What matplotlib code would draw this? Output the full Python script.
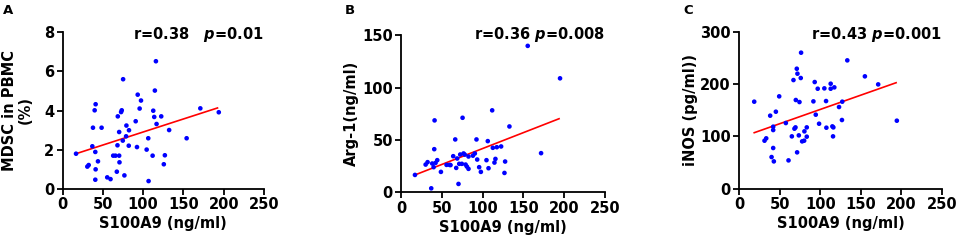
import numpy as np
import matplotlib
matplotlib.use("Agg")
import matplotlib.pyplot as plt

plt.rcParams['font.family'] = ['DejaVu Sans']
plt.rcParams['font.weight'] = 'bold'
plt.rcParams['mathtext.fontset'] = 'custom'
plt.rcParams['mathtext.it'] = 'DejaVu Sans:italic:bold'
plt.rcParams['mathtext.rm'] = 'DejaVu Sans:bold'

# --- data ---
a_x = [16.8, 30.8, 32.5, 37.0, 37.8, 39.9, 41.1, 40.7, 41.1, 40.7, 44.0, 48.5, 55.5, 59.6,
       62.9, 65.7, 67.4, 68.2, 68.6, 70.3, 70.7, 70.3, 72.7, 73.5, 75.2, 76.8, 74.8, 79.3,
       78.9, 82.5, 82.2, 90.8, 92.4, 93.3, 97.4, 95.7, 104.4, 106.8, 106.4, 112.6, 111.8,
       113.8, 114.6, 115.9, 116.7, 122.5, 127.0, 125.7, 132.3, 154.0, 171.0, 193.9]
a_y = [1.79, 1.13, 1.21, 2.17, 3.12, 4.01, 4.32, 1.88, 0.99, 0.46, 1.40, 3.12, 0.58, 0.49,
       1.69, 1.69, 0.87, 2.22, 3.70, 1.69, 1.35, 2.90, 3.92, 4.01, 5.60, 0.68, 2.46, 3.23,
       2.68, 2.99, 2.20, 3.45, 2.13, 4.81, 4.51, 4.10, 2.00, 0.39, 2.58, 3.99, 1.69,
       3.67, 5.02, 6.52, 3.31, 3.70, 1.71, 1.25, 3.00, 2.58, 4.11, 3.91]

b_x = [16.8, 29.9, 32.3, 36.8, 38.0, 39.7, 40.9, 40.5, 42.1, 44.2, 48.7, 55.6, 59.3, 60.5,
       63.8, 66.3, 67.5, 70.3, 68.7, 71.2, 72.4, 74.4, 75.3, 76.5, 78.0, 79.0, 80.6, 82.6,
       82.6, 88.0, 90.4, 92.4, 93.3, 95.7, 97.8, 104.7, 107.2, 106.3, 111.7, 112.5, 114.5,
       115.7, 117.4, 122.7, 126.8, 127.6, 132.9, 155.4, 171.8, 195.1]
b_y = [16.6, 26.5, 28.8, 3.8, 27.5, 24.0, 68.7, 41.2, 28.1, 30.7, 19.5, 26.2, 26.2, 26.0,
       34.5, 50.5, 23.3, 8.0, 32.3, 27.2, 36.1, 27.2, 71.2, 37.1, 36.0, 26.5, 24.6, 22.4,
       34.2, 35.0, 37.1, 50.5, 31.3, 24.0, 19.5, 30.7, 23.0, 48.9, 78.3, 42.5, 28.4,
       31.9, 43.1, 43.8, 18.5, 29.4, 62.9, 139.9, 37.4, 108.9]

c_x = [18.4, 31.1, 33.2, 38.1, 39.8, 41.8, 41.8, 41.8, 42.6, 45.1, 49.2, 57.4, 60.7, 64.8,
       66.8, 68.0, 69.3, 69.7, 70.9, 71.7, 73.4, 74.2, 75.8, 76.2, 71.3, 77.5, 80.0, 80.3,
       83.2, 83.2, 91.4, 93.0, 94.3, 96.7, 98.4, 104.9, 107.0, 107.4, 112.7, 112.7, 114.8,
       116.0, 117.2, 115.6, 123.0, 127.0, 126.6, 133.2, 154.9, 171.3, 194.3]
c_y = [166.6, 91.9, 96.4, 139.8, 60.6, 118.7, 112.3, 77.9, 52.3, 147.4, 176.8, 125.7, 54.2, 100.2,
       208.0, 114.9, 117.4, 169.8, 229.7, 220.2, 102.1, 165.9, 211.9, 260.4, 69.6, 90.6, 91.9, 109.8,
       99.6, 117.4, 167.2, 204.2, 141.7, 191.4, 124.4, 192.1, 167.8, 116.8, 201.0, 191.4, 119.3,
       117.4, 194.0, 100.2, 156.4, 166.6, 131.5, 245.7, 215.1, 199.7, 130.2]

# regression line end points (x, y)
a_fit_x, a_fit_y = [16.8, 192.3], [1.79, 4.13]
b_fit_x, b_fit_y = [16.8, 193.9], [16.6, 70.3]
c_fit_x, c_fit_y = [18.4, 193.4], [107.2, 202.9]

x_ticks = [0, 50, 100, 150, 200, 250]
a_yticks = [0, 2, 4, 6, 8]
b_yticks = [0, 50, 100, 150]
c_yticks = [0, 100, 200, 300]

W, H = 957, 243
fig = plt.figure(figsize=(W / 100, H / 100), dpi=100)


def px_axes(left, right, top, bottom):
    return fig.add_axes([left / W, 1 - bottom / H, (right - left) / W, (bottom - top) / H])


panels = [
    dict(box=(62.5, 264, 32.3, 188.7), x=a_x, y=a_y, fx=a_fit_x, fy=a_fit_y, yt=a_yticks,
         ylabel="MDSC in PBMC\n(%)", stat=r"r=0.38   $p$=0.01", letter="A", lx=3, ylx=17.5),
    dict(box=(401.3, 604.7, 35.3, 192.3), x=b_x, y=b_y, fx=b_fit_x, fy=b_fit_y, yt=b_yticks,
         ylabel="Arg-1(ng/ml)", stat=r"r=0.36 $p$=0.008", letter="B", lx=345, ylx=351),
    dict(box=(739.3, 942, 32, 188.7), x=c_x, y=c_y, fx=c_fit_x, fy=c_fit_y, yt=c_yticks,
         ylabel="iNOS (pg/ml))", stat=r"r=0.43 $p$=0.001", letter="C", lx=683, ylx=691),
]

for p in panels:
    l, r, t, b = p['box']
    ax = px_axes(l, r, t, b)
    ax.scatter(p['x'], p['y'], s=11, color='#0000FF', edgecolors='none', zorder=3, clip_on=False)
    ax.plot(p['fx'], p['fy'], color='#FF0000', lw=1.2, zorder=2)
    ax.set_xlim(0, 250)
    ax.set_ylim(p['yt'][0], p['yt'][-1])
    ax.set_xticks(x_ticks)
    ax.set_yticks(p['yt'])
    for s in ['top', 'right']:
        ax.spines[s].set_visible(False)
    for s in ['left', 'bottom']:
        ax.spines[s].set_linewidth(1.3)
    ax.tick_params(direction='out', length=4, width=1.3, labelsize=10.5, pad=2)
    for lab in ax.get_xticklabels() + ax.get_yticklabels():
        lab.set_fontweight('bold')
    ax.set_xlabel("S100A9 (ng/ml)", fontsize=10.5, fontweight='bold', labelpad=3)
    fig.text(p['ylx'] / W, 1 - ((t + b) / 2) / H, p['ylabel'], rotation=90, ha='center',
             va='center', fontsize=10.5, fontweight='bold', linespacing=1.0)
    fig.text(r / W, 1 - 34 / H, p['stat'], ha='right', va='center', fontsize=10.5, fontweight='bold')
    fig.text(p['lx'] / W, 1 - 11 / H, p['letter'], ha='left', va='center', fontsize=9.5, fontweight='bold')

fig.savefig("out.png", dpi=100)
